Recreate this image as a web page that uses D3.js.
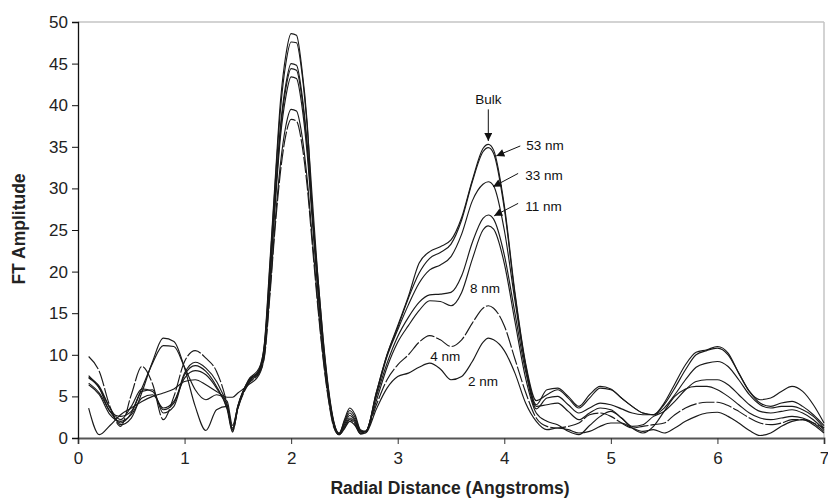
<!DOCTYPE html>
<html>
<head>
<meta charset="utf-8">
<script src="https://cdn.jsdelivr.net/npm/d3@7"></script>
<style>
  body { margin: 0; background: #fff; }
  text { font-family: "Liberation Sans", Arial, sans-serif; }
</style>
</head>
<body>
<div id="chart"></div>
<script>
// radial distance grid (Angstroms), shared by every series
var radius = [0.1,0.2,0.3,0.4,0.5,0.6,0.7,0.8,0.9,1.0,1.1,1.2,1.3,1.4,1.45,1.5,1.6,1.7,
  1.75,1.8,1.85,1.9,1.95,2.0,2.05,2.1,2.15,2.2,2.25,2.3,2.35,2.4,2.45,2.5,2.55,2.6,2.65,2.7,
  2.8,2.9,3.0,3.1,3.2,3.3,3.4,3.5,3.6,3.7,3.8,3.85,
  3.9,4.0,4.1,4.2,4.3,4.4,4.5,4.6,4.7,4.8,4.9,5.0,5.1,5.2,5.3,5.4,5.5,5.6,5.7,5.8,5.9,6.0,
  6.1,6.2,6.3,6.4,6.5,6.6,6.7,6.8,6.9,7.0];

// FT amplitude
var bulk = [7.5,6.0,3.6,1.6,2.4,5.5,9.2,12.0,11.6,8.4,3.8,0.9,3.4,3.8,1.0,3.6,6.8,8.2,
  11.5,21,31,40.5,46,48.6,48.4,44.5,38,27,19.5,12,6,2.0,0.5,2.2,3.6,2.8,1.0,0.8,
  5.5,10,13.5,17,21.0,22.4,23.0,23.8,26.5,31,34.8,35.3,
  34.6,28,17.5,9.0,4.5,5.2,5.8,4.8,3.6,4.8,6.0,5.8,4.8,3.8,3.0,2.8,4.2,6.5,8.8,10.3,10.6,11.0,
  10.2,7.8,5.6,4.6,4.8,5.6,6.2,5.6,4.0,1.8];
var nm53 = [6.6,5.4,3.2,1.8,3.0,6.0,9.0,11.1,11.0,8.5,5.8,4.6,5.2,4.4,1.5,3.8,7.0,8.4,
  11.3,20.5,30.5,39.5,45,47.6,47.5,44,37.5,28.5,19.5,11.8,5.8,1.9,0.6,2.0,3.3,2.5,0.9,0.7,
  5.5,10,13.3,16.8,19.8,21.6,22.3,23.3,26.2,30.8,34.4,34.9,
  34.2,27.6,17.2,8.8,4.0,5.8,6.0,5.0,3.8,5.2,6.2,5.9,4.8,3.8,3.0,2.8,4.0,6.0,8.2,10.0,10.5,10.8,
  10.0,7.8,5.6,4.2,3.8,4.2,4.4,3.8,2.8,1.5];
var nm33 = [7.3,6.2,3.6,2.2,3.8,5.9,5.6,3.4,4.2,7.8,9.1,8.4,6.8,3.8,1.0,3.8,6.8,8.0,
  11,19.5,29,37.5,42.5,45.0,44.8,41.5,35.5,27,18.5,11.2,5.5,1.8,0.5,1.8,3.0,2.2,0.8,0.8,
  5.3,9.8,13.0,16.0,18.6,20.2,20.8,21.8,24.5,28.5,30.5,30.8,
  30.3,25,16.5,8.5,3.5,4.8,5.0,4.0,3.0,3.6,4.2,4.0,3.5,3.0,2.8,2.8,3.6,5.2,7.0,8.5,9.0,9.2,
  8.6,7.0,5.2,4.0,3.6,3.8,3.8,3.4,2.6,1.2];
var nm11 = [7.2,6.0,3.2,2.6,3.2,5.6,5.8,3.0,3.8,7.6,8.7,8.0,6.2,3.4,0.7,3.6,6.6,7.9,
  10.8,19.2,28.6,37,42,44.4,44.2,41,35,26.6,18.2,11,5.4,1.7,0.5,1.6,2.7,2.0,0.7,0.8,
  5.0,9.0,12.2,14.5,16.3,17.2,17.3,17.5,19.5,23.5,26.4,26.8,
  26.3,22,15,8,3.8,4.0,4.2,3.2,2.2,3.0,3.6,3.4,2.4,1.4,1.6,2.6,3.2,4.4,5.8,6.8,7.0,7.0,
  6.4,5.2,4.0,3.2,3.0,3.2,3.4,3.0,2.2,1.0];
var nm8 = [6.4,5.2,2.8,2.0,2.8,4.8,5.2,3.6,4.4,7.2,8.1,7.6,6.0,3.6,1.2,3.9,6.9,8.1,
  10.6,18.8,28,36.2,41,43.4,43.2,40,34.2,26,17.8,10.8,5.3,1.6,0.4,1.4,2.4,1.8,0.6,0.8,
  4.5,8.5,11.5,13.5,15.3,16.5,16.4,15.9,17.5,21.5,25.0,25.5,
  25.1,21,14,7.2,3.0,2.0,1.6,0.8,0.4,1.5,2.6,3.2,2.4,1.2,0.6,1.4,3.2,5.0,5.9,6.2,6.2,5.8,
  5.0,4.0,3.0,2.4,2.2,2.4,2.6,2.4,1.8,0.8];
var nm4 = [9.8,8.0,3.8,1.4,5.2,8.6,6.5,2.2,5.0,9.2,10.5,9.6,8.0,4.0,0.8,3.5,6.5,7.8,
  9.8,17,25.3,32,36.4,38.3,38.1,35.4,30.3,23,15.8,9.5,4.6,1.3,0.4,1.2,2.2,1.6,0.5,0.7,
  4.0,7.0,8.8,10.0,11.5,12.3,11.8,11.0,11.8,13.8,15.6,15.9,
  15.6,13.5,9.5,5.5,2.4,1.4,1.2,1.4,1.8,2.8,3.0,2.6,1.8,1.2,1.4,1.6,1.8,2.8,3.6,4.1,4.3,4.3,
  3.9,3.2,2.4,1.8,1.6,1.8,2.2,2.2,1.8,1.2];
var nm2 = [3.6,0.4,1.5,2.8,3.6,4.4,5.0,5.4,5.9,6.8,7.0,6.4,5.6,4.9,4.9,5.4,6.4,7.6,
  10,17.5,26,33,37.5,39.5,39.3,36.5,31.2,23.8,16.3,9.8,4.8,1.4,0.4,1.1,2.0,1.5,0.5,0.6,
  3.5,6.0,7.4,7.8,8.5,9.0,8.3,7.0,7.4,9.2,11.5,12.0,
  11.8,10.5,7.8,4.2,2.0,1.0,1.2,1.0,0.6,0.8,1.4,1.8,1.8,1.2,0.8,1.0,0.6,1.2,2.0,2.6,3.0,3.1,
  2.6,1.8,0.9,0.3,0.6,1.4,2.0,2.2,1.6,0.6];

var seriesNames = ["Bulk", "53 nm", "33 nm", "11 nm", "8 nm", "4 nm", "2 nm"];
var seriesValues = [bulk, nm53, nm33, nm11, nm8, nm4, nm2];

var xTicks = [0, 1, 2, 3, 4, 5, 6, 7];
var yTicks = [0, 5, 10, 15, 20, 25, 30, 35, 40, 45, 50];

// set the dimensions and margins of the graph
var W = 828, H = 499;
var margin = {top: 22, right: 4, bottom: 61, left: 78};
var width = W - margin.left - margin.right,
    height = H - margin.top - margin.bottom;

var svg = d3.select("#chart")
  .append("svg")
  .attr("width", W)
  .attr("height", H);

var g = svg.append("g")
  .attr("transform", "translate(" + margin.left + "," + margin.top + ")");

var x = d3.scaleLinear().domain([0, 7]).range([0, width]);
var y = d3.scaleLinear().domain([0, 50]).range([height, 0]);

// light frame on top and right
g.append("line").attr("x1", 0).attr("x2", width).attr("y1", 0).attr("y2", 0)
  .attr("stroke", "#c4c4c4").attr("stroke-width", 1.5);
g.append("line").attr("x1", width).attr("x2", width).attr("y1", 0).attr("y2", height)
  .attr("stroke", "#c4c4c4").attr("stroke-width", 1.5);

// curves
var line = d3.line()
  .x(function(d, i) { return x(radius[i]); })
  .y(function(d) { return y(d); })
  .curve(d3.curveMonotoneX);

seriesValues.forEach(function(vals, k) {
  g.append("path")
    .datum(vals)
    .attr("fill", "none")
    .attr("stroke", "#1a1a1a")
    .attr("stroke-width", 1.15)
    .attr("stroke-dasharray", seriesNames[k] === "4 nm" ? "16,2" : null)
    .attr("d", line);
});

// axes
var xAxis = g.append("g")
  .attr("transform", "translate(0," + height + ")")
  .call(d3.axisBottom(x).tickValues(xTicks).tickSize(6).tickPadding(8).tickFormat(d3.format("d")));
xAxis.select(".domain").attr("stroke", "#555").attr("stroke-width", 1.8);
xAxis.selectAll(".tick line").attr("stroke", "#333");

var yAxis = g.append("g")
  .call(d3.axisLeft(y).tickValues(yTicks).tickSize(6).tickPadding(4));
yAxis.select(".domain").attr("stroke", "#111").attr("stroke-width", 1.3);
yAxis.selectAll(".tick line").attr("stroke", "#111");

svg.selectAll(".tick text")
  .attr("font-size", 17)
  .attr("fill", "#222")
  .style("font-family", "'Liberation Sans', Arial, sans-serif");

// axis titles
svg.append("text")
  .attr("x", margin.left + width / 2 - 1)
  .attr("y", 494)
  .attr("text-anchor", "middle")
  .attr("font-size", 17.5)
  .attr("font-weight", "bold")
  .attr("fill", "#222")
  .text("Radial Distance (Angstroms)");

svg.append("text")
  .attr("transform", "translate(25,229) rotate(-90)")
  .attr("text-anchor", "middle")
  .attr("font-size", 17.5)
  .attr("font-weight", "bold")
  .attr("fill", "#222")
  .text("FT Amplitude");

// annotations
svg.append("defs").append("marker")
  .attr("id", "head")
  .attr("viewBox", "0 0 10 10")
  .attr("refX", 10).attr("refY", 5)
  .attr("markerWidth", 10).attr("markerHeight", 8)
  .attr("markerUnits", "userSpaceOnUse")
  .attr("orient", "auto")
  .append("path")
  .attr("d", "M0,0 L10,5 L0,10 Z")
  .attr("fill", "#111");

var arrowLabels = [
  {text: "Bulk",  tx: 3.85,  ty: 40.2,  anchor: "middle", ax: 3.85, ay: 39.5, bx: 3.85,  by: 35.7},
  {text: "53 nm", tx: 4.205, ty: 34.65, anchor: "start",  ax: 4.15, ay: 35.1, bx: 3.925, by: 33.9},
  {text: "33 nm", tx: 4.196, ty: 31.05, anchor: "start",  ax: 4.13, ay: 31.8, bx: 3.895, by: 30.2},
  {text: "11 nm", tx: 4.196, ty: 27.3,  anchor: "start",  ax: 4.13, ay: 28.2, bx: 3.905, by: 26.7}
];
var plainLabels = [
  {text: "8 nm", tx: 3.82,  ty: 17.45},
  {text: "4 nm", tx: 3.445, ty: 9.3},
  {text: "2 nm", tx: 3.80,  ty: 6.3}
];

arrowLabels.forEach(function(a) {
  g.append("text")
    .attr("x", x(a.tx)).attr("y", y(a.ty))
    .attr("text-anchor", a.anchor)
    .attr("font-size", 13.5)
    .attr("fill", "#111")
    .text(a.text);
  g.append("line")
    .attr("x1", x(a.ax)).attr("y1", y(a.ay))
    .attr("x2", x(a.bx)).attr("y2", y(a.by))
    .attr("stroke", "#111")
    .attr("stroke-width", 1)
    .attr("marker-end", "url(#head)");
});

plainLabels.forEach(function(p) {
  g.append("text")
    .attr("x", x(p.tx)).attr("y", y(p.ty))
    .attr("text-anchor", "middle")
    .attr("font-size", 13.5)
    .attr("fill", "#111")
    .text(p.text);
});
</script>
</body>
</html>
